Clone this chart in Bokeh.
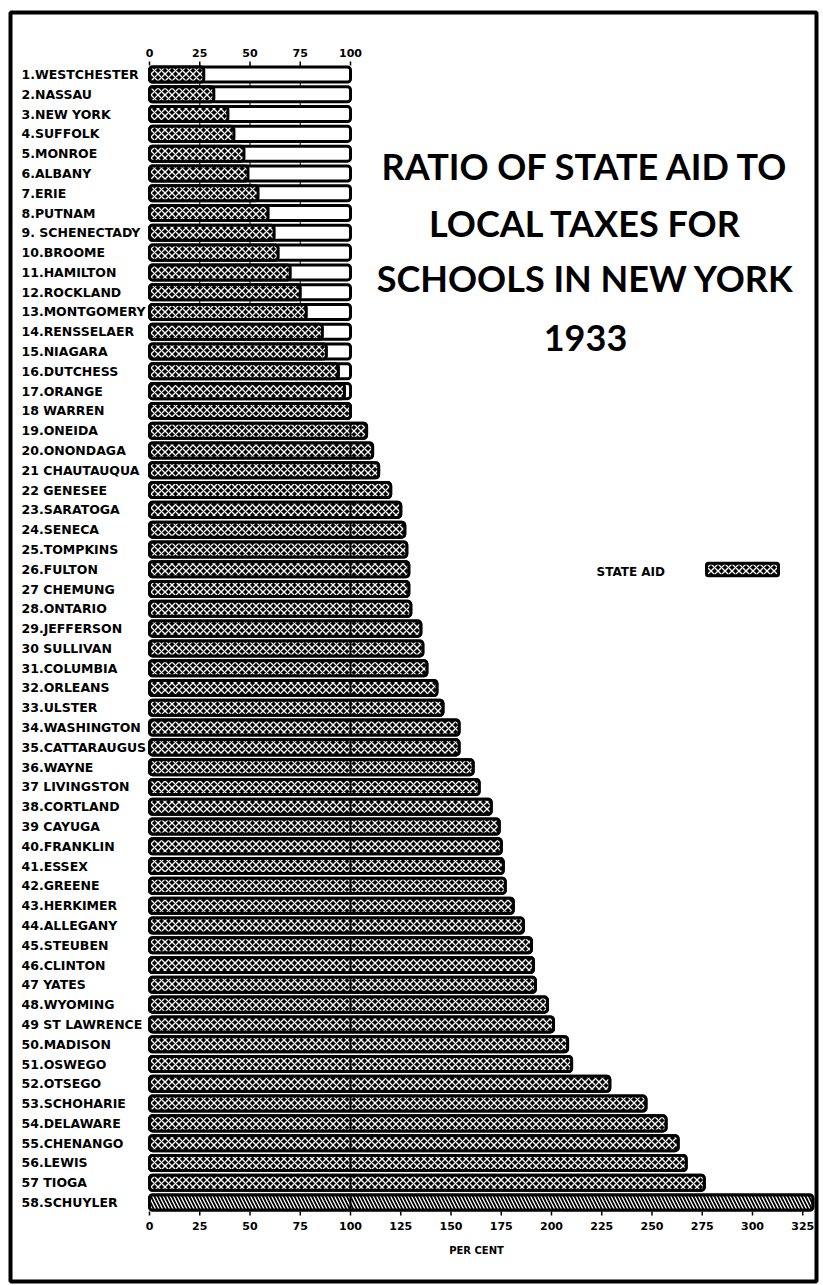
from bokeh.plotting import figure
from bokeh.models import ColumnDataSource, Range1d
from bokeh.core.properties import value
from bokeh.embed import file_html
from bokeh.resources import INLINE

# ---------------- data ----------------
counties = [
    "1.WESTCHESTER", "2.NASSAU", "3.NEW YORK", "4.SUFFOLK", "5.MONROE",
    "6.ALBANY", "7.ERIE", "8.PUTNAM", "9. SCHENECTADY", "10.BROOME",
    "11.HAMILTON", "12.ROCKLAND", "13.MONTGOMERY", "14.RENSSELAER", "15.NIAGARA",
    "16.DUTCHESS", "17.ORANGE", "18 WARREN", "19.ONEIDA", "20.ONONDAGA",
    "21 CHAUTAUQUA", "22 GENESEE", "23.SARATOGA", "24.SENECA", "25.TOMPKINS",
    "26.FULTON", "27 CHEMUNG", "28.ONTARIO", "29.JEFFERSON", "30 SULLIVAN",
    "31.COLUMBIA", "32.ORLEANS", "33.ULSTER", "34.WASHINGTON", "35.CATTARAUGUS",
    "36.WAYNE", "37 LIVINGSTON", "38.CORTLAND", "39 CAYUGA", "40.FRANKLIN",
    "41.ESSEX", "42.GREENE", "43.HERKIMER", "44.ALLEGANY", "45.STEUBEN",
    "46.CLINTON", "47 YATES", "48.WYOMING", "49 ST LAWRENCE", "50.MADISON",
    "51.OSWEGO", "52.OTSEGO", "53.SCHOHARIE", "54.DELAWARE", "55.CHENANGO",
    "56.LEWIS", "57 TIOGA", "58.SCHUYLER",
]
state_aid_pct = [
    27, 32, 39, 42, 47, 49, 54, 59, 62, 64,
    70, 75, 78, 86, 88, 94, 97, 100, 108, 111,
    114, 120, 125, 127, 128, 129, 129, 130, 135, 136,
    138, 143, 146, 154, 154, 161, 164, 170, 174, 175,
    176, 177, 181, 186, 190, 191, 192, 198, 201, 208,
    210, 229, 247, 257, 263, 267, 276, 330,
]
local_taxes_pct = 100
top_ticks = [0, 25, 50, 75, 100]
bottom_ticks = [0, 25, 50, 75, 100, 125, 150, 175, 200, 225, 250, 275, 300, 325]
title_lines = ["RATIO OF STATE AID TO", "LOCAL TAXES FOR", "SCHOOLS IN NEW YORK", "1933"]
axis_title = "PER CENT"
legend_label = "STATE AID"

# ---------------- layout helpers (pixel -> data) ----------------
W, H = 823, 1285
X0, SX = 149.0, 2.01      # pixel of 0 %, pixels per %
Y0, SY = 74.0, 19.79      # pixel of row 1 centre, pixels per row


def X(px):
    return (px - X0) / SX


def Y(py):
    return 1 + (py - Y0) / SY


rows = list(range(1, len(counties) + 1))
box_right = [max(v, local_taxes_pct) for v in state_aid_pct]
# the last (largest) bar is drawn with a diagonal hatch in the original
patterns = ["x"] * (len(rows) - 1) + ["\\"]
src = ColumnDataSource(dict(row=rows, name=counties, aid=state_aid_pct, box=box_right,
                            zero=[0] * len(rows), pat=patterns))
over = [(r, v) for r, v in zip(rows, state_aid_pct) if v > local_taxes_pct]
div_src = ColumnDataSource(dict(row=[o[0] for o in over], x=[local_taxes_pct] * len(over)))

p = figure(width=W, height=H, x_range=Range1d(X(0), X(W)),
           y_range=Range1d(Y(H), Y(0)), x_axis_type=None, y_axis_type=None,
           toolbar_location=None, output_backend="svg", min_border=0)
p.outline_line_color = None
p.background_fill_color = "white"
p.border_fill_color = "white"

BH = 0.76
FONT = value("DejaVu Sans")

# page frame
p.quad(left=[X(10)], right=[X(816)], top=[Y(12)], bottom=[Y(1281)],
       fill_color=None, line_color="black", line_width=4)

# faint grid lines under the upper bars
p.segment(x0=top_ticks[1:-1], x1=top_ticks[1:-1], y0=[0.5] * 3, y1=[13.4] * 3,
          line_color="black", line_width=1)

# outline boxes (local taxes = 100)
p.hbar(y="row", left="zero", right="box", height=BH, source=src,
       fill_color="white", line_color="black", line_width=3, border_radius=3)
# state aid hatched part
p.hbar(y="row", left="zero", right="aid", height=BH, source=src,
       fill_color="black", hatch_color="white", hatch_pattern="pat",
       hatch_scale=7, hatch_weight=1.3, line_color="black", line_width=3,
       border_radius=3)
# divider at 100 for bars above 100
p.rect(x="x", y="row", width=1.0, height=BH, source=div_src,
       fill_color="black", line_color=None)

# county labels
p.text(x=X(21), y="row", text="name", source=src, text_font=FONT,
       text_font_style="bold", text_font_size="12.5px", text_align="left",
       text_baseline="middle", text_color="black")

# top scale
p.text(x=top_ticks, y=[Y(52)] * len(top_ticks), text=[str(t) for t in top_ticks],
       text_font=FONT, text_font_style="bold", text_font_size="11px",
       text_align="center", text_baseline="middle", text_color="black")
p.segment(x0=top_ticks, x1=top_ticks, y0=[Y(61)] * len(top_ticks),
          y1=[Y(65)] * len(top_ticks), line_color="black", line_width=1.5)

# bottom scale
p.segment(x0=bottom_ticks, x1=bottom_ticks, y0=[Y(1211)] * len(bottom_ticks),
          y1=[Y(1215)] * len(bottom_ticks), line_color="black", line_width=1.5)
p.text(x=bottom_ticks, y=[Y(1225)] * len(bottom_ticks),
       text=[str(t) for t in bottom_ticks], text_font=FONT,
       text_font_style="bold", text_font_size="11px", text_align="center",
       text_baseline="middle", text_color="black")
p.text(x=[X(476)], y=[Y(1250)], text=[axis_title], text_font=FONT,
       text_font_style="bold", text_font_size="10px", text_align="center",
       text_baseline="middle", text_color="black")

# title
p.text(x=[X(585)] * 4, y=[Y(165), Y(222), Y(277), Y(337)], text=title_lines,
       text_font=value("Lato"), text_font_style="bold", text_font_size="36px",
       text_align="center", text_baseline="alphabetic", text_color="black")

# legend
p.text(x=[X(596)], y=[Y(571)], text=[legend_label], text_font=FONT,
       text_font_style="bold", text_font_size="12px", text_align="left",
       text_baseline="middle", text_color="black")
p.hbar(y=[Y(569)], left=[X(706)], right=[X(778)], height=0.62, fill_color="black",
       hatch_color="white", hatch_pattern="x", hatch_scale=7, hatch_weight=1.3,
       line_color="black", line_width=3, border_radius=2)

open("out.html", "w").write(file_html(p, INLINE))
